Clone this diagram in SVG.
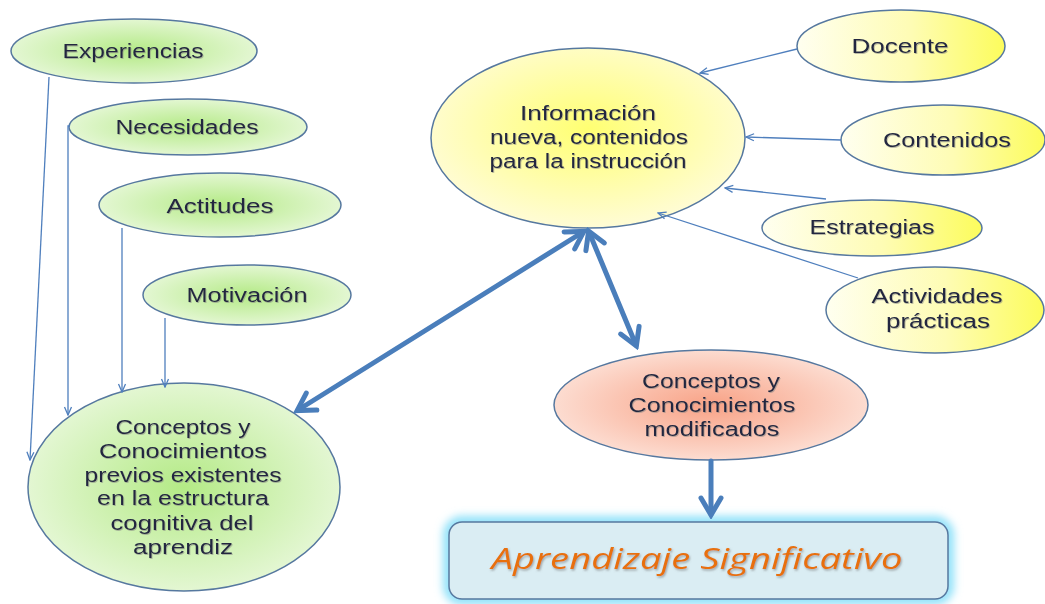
<svg xmlns="http://www.w3.org/2000/svg" width="1045" height="604" viewBox="0 0 1045 604">
<style>
.node{stroke:#56789f;stroke-width:1.5}
.lbl{font-family:"Liberation Sans","Open Sans",sans-serif;font-size:20px;fill:#222840;text-anchor:middle;filter:url(#ts)}
.thin{stroke:#4f7fbd;stroke-width:1.3;fill:none;marker-end:url(#thinHead)}
.thick{stroke:#4a7ebb;stroke-width:5;fill:none;stroke-linecap:round}
.big{font-family:"Open Sans","Liberation Sans",sans-serif;font-size:30px;font-style:italic;fill:#e8700f;text-anchor:middle;filter:url(#ts2)}
</style>
<defs>
<radialGradient id="gGreen" cx="50%" cy="50%" r="55%">
<stop offset="0" stop-color="#b4ea86"/>
<stop offset="1" stop-color="#e8f8da"/>
</radialGradient>
<radialGradient id="gInfo" cx="50%" cy="45%" r="55%">
<stop offset="0" stop-color="#ffff72"/>
<stop offset="1" stop-color="#fffcd6"/>
</radialGradient>
<linearGradient id="gYel" x1="0" y1="0" x2="1" y2="0">
<stop offset="0" stop-color="#fffff0"/>
<stop offset="0.55" stop-color="#fefcb4"/>
<stop offset="1" stop-color="#fcfc5c"/>
</linearGradient>
<radialGradient id="gPink" cx="50%" cy="50%" r="55%">
<stop offset="0" stop-color="#f8a286"/>
<stop offset="1" stop-color="#fde2d8"/>
</radialGradient>
<filter id="ts" x="-10%" y="-30%" width="120%" height="160%">
<feDropShadow dx="0.8" dy="1" stdDeviation="0.7" flood-color="#808080" flood-opacity="0.55"/>
</filter>
<filter id="ts2" x="-10%" y="-30%" width="120%" height="160%">
<feDropShadow dx="1" dy="1.5" stdDeviation="1" flood-color="#707070" flood-opacity="0.6"/>
</filter>
<filter id="glow" x="-10%" y="-40%" width="120%" height="180%">
<feGaussianBlur stdDeviation="4"/>
</filter>
<marker id="thinHead" markerUnits="userSpaceOnUse" viewBox="0 0 10 10" refX="9" refY="5" markerWidth="10" markerHeight="10" orient="auto">
<path d="M1,1.5 L9,5 L1,8.5" fill="none" stroke="#4f7fbd" stroke-width="1.3"/>
</marker>
<marker id="thickHead" markerUnits="userSpaceOnUse" viewBox="0 0 26 26" refX="21" refY="13" markerWidth="26" markerHeight="26" orient="auto-start-reverse">
<path d="M5,3 L22,13 L5,23" fill="none" stroke="#4a7ebb" stroke-width="5" stroke-linecap="round" stroke-linejoin="miter"/>
</marker>
</defs>
<rect width="1045" height="604" fill="#ffffff"/>

<g id="experiencias">
<ellipse class="node" cx="134" cy="51" rx="123" ry="32" fill="url(#gGreen)"/>
<text class="lbl" x="133" y="58" textLength="141" lengthAdjust="spacingAndGlyphs">Experiencias</text>
</g>
<g id="necesidades">
<ellipse class="node" cx="188" cy="127" rx="119" ry="28" fill="url(#gGreen)"/>
<text class="lbl" x="187" y="134" textLength="143" lengthAdjust="spacingAndGlyphs">Necesidades</text>
</g>
<g id="actitudes">
<ellipse class="node" cx="220" cy="205" rx="121" ry="32" fill="url(#gGreen)"/>
<text class="lbl" x="220" y="213" textLength="107" lengthAdjust="spacingAndGlyphs">Actitudes</text>
</g>
<g id="motivacion">
<ellipse class="node" cx="247" cy="295" rx="104" ry="30" fill="url(#gGreen)"/>
<text class="lbl" x="247" y="302" textLength="121" lengthAdjust="spacingAndGlyphs">Motivación</text>
</g>
<g id="previos">
<ellipse class="node" cx="184" cy="487" rx="156" ry="104" fill="url(#gGreen)"/>
<text class="lbl" x="183" y="434" textLength="135" lengthAdjust="spacingAndGlyphs">Conceptos y</text>
<text class="lbl" x="183" y="458" textLength="168" lengthAdjust="spacingAndGlyphs">Conocimientos</text>
<text class="lbl" x="183" y="482" textLength="197" lengthAdjust="spacingAndGlyphs">previos existentes</text>
<text class="lbl" x="183" y="505" textLength="172" lengthAdjust="spacingAndGlyphs">en la estructura</text>
<text class="lbl" x="182" y="530" textLength="143" lengthAdjust="spacingAndGlyphs">cognitiva del</text>
<text class="lbl" x="183" y="554" textLength="100" lengthAdjust="spacingAndGlyphs">aprendiz</text>
</g>
<g id="informacion">
<ellipse class="node" cx="588" cy="138" rx="157" ry="90" fill="url(#gInfo)"/>
<text class="lbl" x="588" y="120" textLength="136" lengthAdjust="spacingAndGlyphs">Información</text>
<text class="lbl" x="589" y="144" textLength="198" lengthAdjust="spacingAndGlyphs">nueva, contenidos</text>
<text class="lbl" x="588" y="168" textLength="197" lengthAdjust="spacingAndGlyphs">para la instrucción</text>
</g>
<g id="docente">
<ellipse class="node" cx="901" cy="46" rx="104" ry="36" fill="url(#gYel)"/>
<text class="lbl" x="900" y="53" textLength="97" lengthAdjust="spacingAndGlyphs">Docente</text>
</g>
<g id="contenidos">
<ellipse class="node" cx="943" cy="140" rx="102" ry="35" fill="url(#gYel)"/>
<text class="lbl" x="947" y="147" textLength="128" lengthAdjust="spacingAndGlyphs">Contenidos</text>
</g>
<g id="estrategias">
<ellipse class="node" cx="872" cy="228" rx="110" ry="28" fill="url(#gYel)"/>
<text class="lbl" x="872" y="234" textLength="125" lengthAdjust="spacingAndGlyphs">Estrategias</text>
</g>
<g id="actividades">
<ellipse class="node" cx="935" cy="310" rx="109" ry="43" fill="url(#gYel)"/>
<text class="lbl" x="937" y="303" textLength="131" lengthAdjust="spacingAndGlyphs">Actividades</text>
<text class="lbl" x="938" y="328" textLength="104" lengthAdjust="spacingAndGlyphs">prácticas</text>
</g>
<g id="modificados">
<ellipse class="node" cx="711" cy="405" rx="157" ry="55" fill="url(#gPink)"/>
<text class="lbl" x="711" y="388" textLength="138" lengthAdjust="spacingAndGlyphs">Conceptos y</text>
<text class="lbl" x="712" y="412" textLength="167" lengthAdjust="spacingAndGlyphs">Conocimientos</text>
<text class="lbl" x="712" y="436" textLength="135" lengthAdjust="spacingAndGlyphs">modificados</text>
</g>
<g id="aprendizaje">
<rect x="449" y="522" width="499" height="77" rx="13" fill="none" stroke="#8fe1f9" stroke-width="12" filter="url(#glow)"/>
<rect x="449" y="522" width="499" height="77" rx="13" fill="#daedf3" stroke="#56789f" stroke-width="1.5"/>
<text class="big" x="697" y="569" textLength="411" lengthAdjust="spacingAndGlyphs">Aprendizaje Significativo</text>
</g>

<g id="connectors">
<line class="thin" x1="49" y1="77" x2="30" y2="460"/>
<polyline class="thin" points="70,126 68,126 68,415"/>
<line class="thin" x1="122" y1="228" x2="122" y2="392"/>
<line class="thin" x1="165" y1="318" x2="165" y2="387"/>
<line class="thin" x1="797" y1="49" x2="700" y2="73"/>
<line class="thin" x1="841" y1="140" x2="746" y2="137"/>
<line class="thin" x1="826" y1="199" x2="725" y2="188"/>
<line class="thin" x1="858" y1="278" x2="658" y2="213"/>
<line class="thick" x1="298" y1="410" x2="583" y2="232" marker-start="url(#thickHead)" marker-end="url(#thickHead)"/>
<line class="thick" x1="589" y1="232" x2="636" y2="345" marker-start="url(#thickHead)" marker-end="url(#thickHead)"/>
<line class="thick" x1="711" y1="461" x2="711" y2="514" marker-end="url(#thickHead)"/>
</g>
</svg>
